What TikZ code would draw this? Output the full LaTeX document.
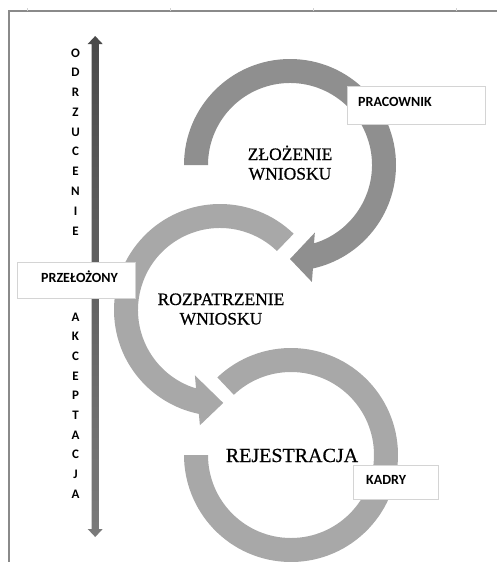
\documentclass[tikz,border=0pt]{standalone}
\usepackage{fontspec}
\setmainfont{Liberation Serif}
\newfontfamily\stagefont[FakeBold=0.6]{Liberation Serif}
\newfontfamily\tagfont{Carlito}
\usetikzlibrary{calc}

\definecolor{ringdark}{HTML}{8F8F8F}
\definecolor{ringlight}{HTML}{A8A8A8}
\definecolor{framegray}{HTML}{8A8A8A}
\definecolor{boxedge}{HTML}{D4D4D4}
\definecolor{axistop}{HTML}{4A4A4A}
\definecolor{axisbottom}{HTML}{7A7A7A}

\begin{document}
\begin{tikzpicture}[x=1pt,y=-1pt,
  tagbox/.style={draw=boxedge, line width=0.8pt, fill=white, inner sep=0pt},
  tagtext/.style={font=\tagfont\bfseries\fontsize{14}{16}\selectfont, inner sep=0pt, anchor=base west},
  stageline/.style={font=\stagefont\fontsize{17.5}{20}\selectfont, inner sep=0pt, anchor=base},
  letter/.style={font=\tagfont\bfseries\fontsize{13}{15}\selectfont, inner sep=0pt, anchor=base}]

\useasboundingbox (0,0) rectangle (497,562);

% outer frame (left and top edges) with faint column ticks
\draw[framegray, line width=1.5pt] (9,562) -- (9,11) -- (497,11);
\foreach \tx in {27,170,313,456}
  \draw[gray!35, line width=0.6pt] (\tx,8) -- (\tx,10.5);

% double-headed vertical axis
\shade[top color=axistop, bottom color=axisbottom]
  (95.2,36) -- (102.7,44) -- (98.8,44) -- (98.8,529) -- (102.7,529) -- (95.2,537)
  -- (87.7,529) -- (91.6,529) -- (91.6,44) -- (87.7,44) -- cycle;

% ring 1: submission (clockwise, arrow at the bottom)
\coordinate (c1) at (290,165);
\fill[ringdark] ($(c1)+(180:106)$) arc[start angle=180, end angle=437.5, radius=106]
  -- ($(c1)+(439.4:119)$) -- ($(c1)+(450:94)$) -- ($(c1)+(429.8:72)$)
  -- ($(c1)+(433:82)$) arc[start angle=433, end angle=180, radius=82] -- cycle;

% ring 2: review (counter-clockwise, arrow at the bottom)
\coordinate (c2) at (220,310);
\fill[ringlight] ($(c2)+(-46:106)$) arc[start angle=-46, end angle=-258.5, radius=106]
  -- ($(c2)+(-260.1:117)$) -- ($(c2)+(-272:93)$) -- ($(c2)+(-249:70)$)
  -- ($(c2)+(-253:82)$) arc[start angle=-253, end angle=-46, radius=82] -- cycle;

% ring 3: registration (open ring, no arrow)
\coordinate (c3) at (291,455);
\fill[ringlight] ($(c3)+(226.5:107)$) arc[start angle=226.5, end angle=540, radius=107]
  -- ($(c3)+(540:83)$) arc[start angle=540, end angle=226.5, radius=83] -- cycle;

% stage titles
\node[stageline] (s1a) at (290,160) {ZŁOŻENIE};
\node[stageline] (s1b) at (290,179.5) {WNIOSKU};
\node[stageline] (s2a) at (221,305) {ROZPATRZENIE};
\node[stageline] (s2b) at (221,324.5) {WNIOSKU};
\node[stageline, font=\stagefont\fontsize{20}{24}\selectfont] (s3) at (292,462) {REJESTRACJA};

% role tags
\node[tagbox, minimum width=138pt, minimum height=38pt] (pracBox) at (416,105) {};
\node[tagtext] (pracText) at (358,106) {PRACOWNIK};
\node[tagbox, minimum width=118pt, minimum height=36pt] (przBox) at (76,280) {};
\node[tagtext] (przText) at (41,282.5) {PRZEŁOŻONY};
\node[tagbox, minimum width=85pt, minimum height=34pt] (kadBox) at (395.5,482) {};
\node[tagtext] (kadText) at (366,484.5) {KADRY};

% vertical captions along the axis
\foreach \ch [count=\i from 0] in {O,D,R,Z,U,C,E,N,I,E}
  \node[letter] (odr\i) at (75.5,{57+19.78*\i}) {\ch};
\foreach \ch [count=\i from 0] in {A,K,C,E,P,T,A,C,J,A}
  \node[letter] (akc\i) at (75.5,{321+19.67*\i}) {\ch};
\end{tikzpicture}
\end{document}
